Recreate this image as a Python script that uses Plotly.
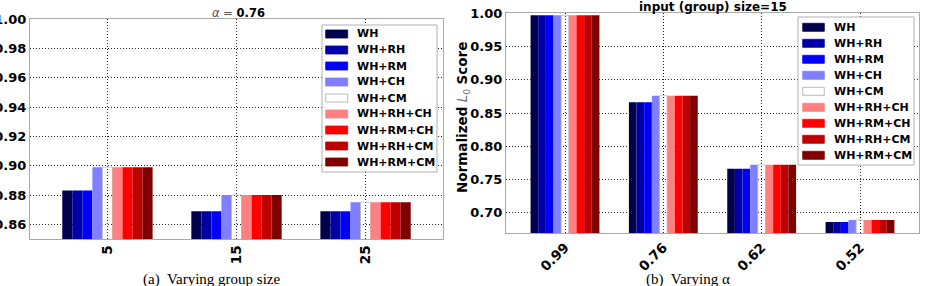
import plotly.graph_objects as go

W, H = 926, 286

# ---------------- data ----------------
series_names = ["WH", "WH+RH", "WH+RM", "WH+CH", "WH+CM",
                "WH+RH+CH", "WH+RM+CH", "WH+RH+CM", "WH+RM+CM"]
series_colors = ["#00004d", "#0000a6", "#0000ff", "#8080ff", "#ffffff",
                 "#ff8080", "#ff0000", "#bf0000", "#800000"]

# (a) varying group size, alpha = 0.76
group_sizes = ["5", "15", "25"]
size_WH = [0.883, 0.869, 0.869]
size_WH_RH = [0.883, 0.869, 0.869]
size_WH_RM = [0.883, 0.869, 0.869]
size_WH_CH = [0.899, 0.880, 0.875]
size_WH_CM = [0.899, 0.880, 0.875]
size_WH_RH_CH = [0.899, 0.880, 0.875]
size_WH_RM_CH = [0.899, 0.880, 0.875]
size_WH_RH_CM = [0.899, 0.880, 0.875]
size_WH_RM_CM = [0.899, 0.880, 0.875]
size_ticks = [0.86, 0.88, 0.90, 0.92, 0.94, 0.96, 0.98, 1.00]

# (b) varying alpha, group size = 15
alpha_labels = ["0.99", "0.76", "0.62", "0.52"]
alpha_WH = [0.997, 0.866, 0.766, 0.686]
alpha_WH_RH = [0.997, 0.866, 0.766, 0.686]
alpha_WH_RM = [0.997, 0.866, 0.766, 0.686]
alpha_WH_CH = [0.997, 0.876, 0.772, 0.689]
alpha_WH_CM = [0.997, 0.876, 0.772, 0.689]
alpha_WH_RH_CH = [0.997, 0.876, 0.772, 0.689]
alpha_WH_RM_CH = [0.997, 0.876, 0.772, 0.689]
alpha_WH_RH_CM = [0.997, 0.876, 0.772, 0.689]
alpha_WH_RM_CM = [0.997, 0.876, 0.772, 0.689]
alpha_ticks = [0.70, 0.75, 0.80, 0.85, 0.90, 0.95, 1.00]

size_series = [size_WH, size_WH_RH, size_WH_RM, size_WH_CH, size_WH_CM,
               size_WH_RH_CH, size_WH_RM_CH, size_WH_RH_CM, size_WH_RM_CM]
alpha_series = [alpha_WH, alpha_WH_RH, alpha_WH_RM, alpha_WH_CH, alpha_WH_CM,
                alpha_WH_RH_CH, alpha_WH_RM_CH, alpha_WH_RH_CM, alpha_WH_RM_CM]

# ---------------- helpers ----------------
def px(x):
    return x / W


def py(y):
    return 1 - y / H


FONT = "DejaVu Sans"
GRID = dict(showgrid=True, gridcolor="#222222", gridwidth=1, griddash="1px,2px")

fig = go.Figure()


def bar_marker(color):
    if color.lower() == "#ffffff":
        return dict(color="rgba(255,255,255,0)", line=dict(color="#bbbbbb", width=0.8))
    return dict(color=color, line=dict(width=0))


for name, color, vals in zip(series_names, series_colors, size_series):
    fig.add_trace(go.Bar(x=group_sizes, y=vals, name=name, marker=bar_marker(color),
                         xaxis="x", yaxis="y", showlegend=False))
for name, color, vals in zip(series_names, series_colors, alpha_series):
    fig.add_trace(go.Bar(x=alpha_labels, y=vals, name=name, marker=bar_marker(color),
                         xaxis="x2", yaxis="y2", showlegend=False))

tickfont = dict(family=FONT, size=13, color="black", weight="bold")
xtickfont = dict(family=FONT, size=13.5, color="black", weight="bold")

fig.update_layout(
    width=W, height=H, autosize=False,
    margin=dict(l=0, r=0, t=0, b=0),
    paper_bgcolor="white", plot_bgcolor="white",
    barmode="group", bargap=0.3, bargroupgap=0,
    showlegend=False,
    xaxis=dict(domain=[px(30), px(443)], anchor="y", type="category",
               range=[-0.6, 2.6], tickangle=-90, tickfont=xtickfont,
               showline=True, mirror=True, linecolor="#aaaaaa", linewidth=1,
               ticks="", automargin=False, zeroline=False, **GRID),
    yaxis=dict(domain=[py(239), py(19)], anchor="x", range=[0.85, 1.0],
               tickvals=size_ticks, ticktext=[f"{v:.2f}" for v in size_ticks],
               tickfont=tickfont, showline=True, mirror=True,
               linecolor="#aaaaaa", linewidth=1, ticks="", automargin=False,
               zeroline=False, **GRID),
    xaxis2=dict(domain=[px(506), px(919)], anchor="y2", type="category",
                range=[-0.6, 3.6], tickangle=-45, tickfont=xtickfont,
                showline=True, mirror=True, linecolor="#aaaaaa", linewidth=1,
                ticks="", automargin=False, zeroline=False, **GRID),
    yaxis2=dict(domain=[py(233.3), py(13.3)], anchor="x2", range=[0.669, 1.0],
                tickvals=alpha_ticks, ticktext=[f"{v:.2f}" for v in alpha_ticks],
                tickfont=tickfont, showline=True, mirror=True,
                linecolor="#aaaaaa", linewidth=1, ticks="", automargin=False,
                zeroline=False, **GRID),
)

shapes = []
annotations = []


def add_legend(box, first_y, sw_x0, sw_x1, text_x):
    x0, y0, x1, y1 = box
    shapes.append(dict(type="rect", xref="paper", yref="paper",
                       x0=px(x0), x1=px(x1), y0=py(y1), y1=py(y0),
                       line=dict(color="#b0b0b0", width=1), fillcolor="white",
                       layer="above"))
    for i, (n, c) in enumerate(zip(series_names, series_colors)):
        yc = first_y + 16 * i
        white = c.lower() == "#ffffff"
        shapes.append(dict(type="rect", xref="paper", yref="paper",
                           x0=px(sw_x0), x1=px(sw_x1), y0=py(yc + 4), y1=py(yc - 4),
                           fillcolor=c,
                           line=dict(color="#aaaaaa" if white else c, width=0.8),
                           layer="above"))
        annotations.append(dict(text="<b>" + n + "</b>", xref="paper", yref="paper",
                                x=px(text_x), y=py(yc), xanchor="left",
                                yanchor="middle", showarrow=False,
                                font=dict(family=FONT, size=11, color="black")))


add_legend((322, 25, 437, 172), 34, 325.7, 347.7, 355)
add_legend((798, 17, 914, 165), 27.3, 802.7, 824.3, 831.5)

# titles
annotations.append(dict(text="<span style='color:#555'><i>α</i> = </span><b>0.76</b>",
                        xref="paper", yref="paper", x=px(238), y=py(13),
                        xanchor="center", yanchor="middle", showarrow=False,
                        font=dict(family=FONT, size=11.5, color="black")))
annotations.append(dict(text="<b>input (group) size=15</b>",
                        xref="paper", yref="paper", x=px(712.5), y=py(7.3),
                        xanchor="center", yanchor="middle", showarrow=False,
                        font=dict(family=FONT, size=12, color="black")))
# y-axis title of (b)
annotations.append(dict(text="<b>Normalized</b> <span style='color:#777'><i>L</i><sub>0</sub></span> <b>Score</b>",
                        xref="paper", yref="paper", x=px(463), y=py(118),
                        xanchor="center", yanchor="middle", textangle=-90,
                        showarrow=False,
                        font=dict(family=FONT, size=13.5, color="black")))
# captions
annotations.append(dict(text="(a)  Varying group size", xref="paper", yref="paper",
                        x=px(212), y=py(279.5), xanchor="center", yanchor="middle",
                        showarrow=False,
                        font=dict(family="Liberation Serif", size=15, color="black")))
annotations.append(dict(text="(b)  Varying α", xref="paper", yref="paper",
                        x=px(688), y=py(279.5), xanchor="center", yanchor="middle",
                        showarrow=False,
                        font=dict(family="Liberation Serif", size=15, color="black")))

fig.update_layout(shapes=shapes, annotations=annotations)
fig.write_html("out.html")
